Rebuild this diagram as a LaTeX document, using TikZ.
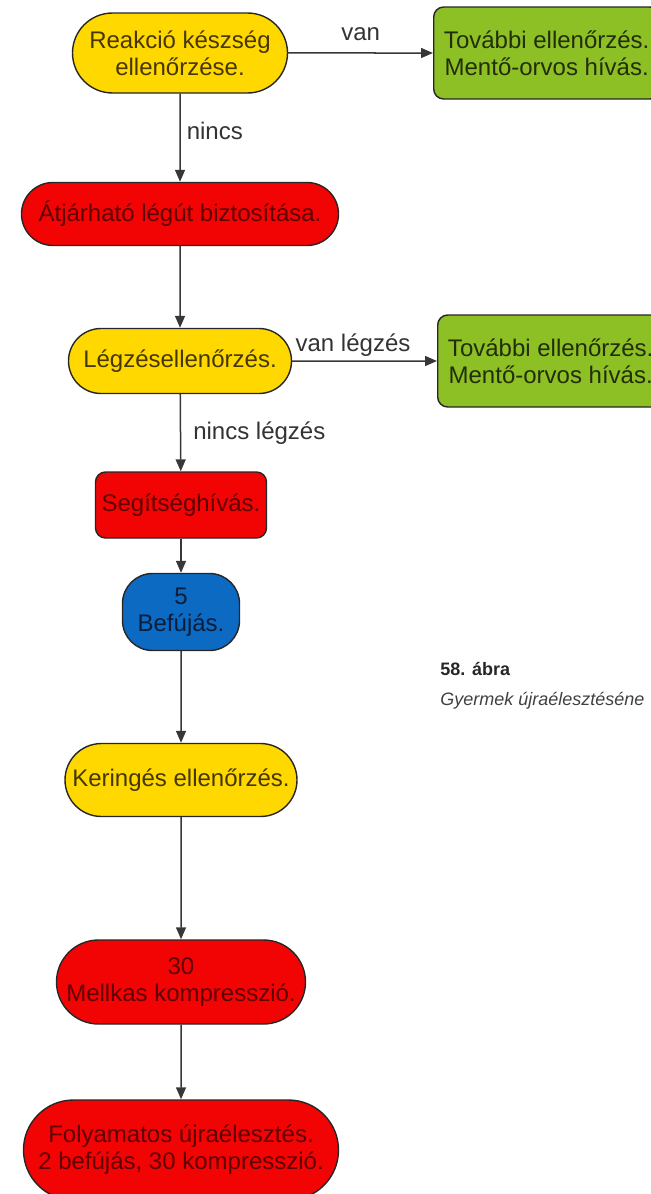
\documentclass[tikz,border=0pt]{standalone}
\usepackage{fontspec}
\setmainfont{Liberation Sans}
\usetikzlibrary{arrows.meta,shapes.misc}

\definecolor{sargaszin}{RGB}{255,216,0}
\definecolor{pirosszin}{RGB}{242,4,4}
\definecolor{zoldszin}{RGB}{140,192,36}
\definecolor{kekszin}{RGB}{12,106,194}
\definecolor{sargabetu}{RGB}{70,55,0}
\definecolor{pirosbetu}{RGB}{95,0,0}
\definecolor{zoldbetu}{RGB}{35,45,10}
\definecolor{kekbetu}{RGB}{10,30,60}
\definecolor{vonal}{RGB}{55,55,55}

\begin{document}
\begin{tikzpicture}[x=0.5pt,y=-0.5pt,
    doboz/.style={draw=black!85, line width=0.7pt, align=center, inner sep=1pt,
      font=\fontsize{12}{13.5}\selectfont},
    kapszula/.style={doboz, rounded rectangle},
    ellenorzes/.style={kapszula, fill=sargaszin, text=sargabetu},
    teendo/.style={fill=pirosszin, text=pirosbetu},
    tovabb/.style={doboz, fill=zoldszin, text=zoldbetu, rounded corners=5pt,
      minimum width=113pt, minimum height=46pt, anchor=west},
    nyil/.style={draw=vonal, line width=0.75pt, -{Triangle[length=6pt,width=5pt]}},
    felirat/.style={text=black!80, font=\fontsize{12}{13.5}\selectfont, inner sep=1pt}]
  \clip (0,0) rectangle (651,1194);
  \useasboundingbox (0,0) rectangle (651,1194);

  \node[ellenorzes, minimum width=109.5pt, minimum height=40pt] (reakcio) at (180,53)
    {Reakció készség\\ellenőrzése.};
  \node[tovabb] (tovabbi1) at (433,53) {További ellenőrzés.\\Mentő-orvos hívás.};
  \node[kapszula, teendo, minimum width=160.5pt, minimum height=31.5pt] (legut) at (180,214)
    {Átjárható légút biztosítása.};
  \node[ellenorzes, minimum width=113.5pt, minimum height=32.5pt] (legzes) at (180,361)
    {Légzésellenőrzés.};
  \node[tovabb] (tovabbi2) at (437,361) {További ellenőrzés.\\Mentő-orvos hívás.};
  \node[doboz, teendo, rounded corners=5pt, minimum width=85.5pt, minimum height=33pt]
    (segitseg) at (181,505) {Segítséghívás.};
  \node[doboz, fill=kekszin, text=kekbetu, rounded corners=15pt, minimum width=58.5pt,
    minimum height=38.5pt] (befujas) at (181,612) {5\\Befújás.};
  \node[ellenorzes, minimum width=118pt, minimum height=36.5pt] (keringes) at (181,780)
    {Keringés ellenőrzés.};
  \node[kapszula, teendo, minimum width=126.5pt, minimum height=42pt] (mellkas) at (181,982)
    {30\\Mellkas kompresszió.};
  \node[kapszula, teendo, minimum width=159.5pt, minimum height=50pt] (folyamatos) at (181,1150)
    {Folyamatos újraélesztés.\\2 befújás, 30 kompresszió.};

  \draw[nyil] (reakcio) -- (tovabbi1) node[felirat, midway, above=5pt] {van};
  \draw[nyil] (reakcio) -- (legut) node[felirat, pos=0.42, right=2pt] {nincs};
  \draw[nyil] (legut) -- (legzes);
  \draw[nyil] (legzes) -- (tovabbi2) node[felirat, pos=0.42, above=1pt] {van légzés};
  \draw[nyil] (legzes) -- (segitseg) node[felirat, midway, right=5pt] {nincs légzés};
  \draw[nyil] (segitseg) -- (befujas);
  \draw[nyil] (befujas) -- (keringes);
  \draw[nyil] (keringes) -- (mellkas);
  \draw[nyil] (mellkas) -- (folyamatos);

  \node[anchor=west, inner sep=0pt, text=black!85, font=\bfseries\fontsize{9}{11}\selectfont]
    (abra) at (440,669) {58. ábra};
  \node[anchor=west, inner sep=0pt, text=black!75, font=\itshape\fontsize{9}{11}\selectfont]
    (cim) at (440,701) {Gyermek újraélesztéséne};
\end{tikzpicture}
\end{document}
